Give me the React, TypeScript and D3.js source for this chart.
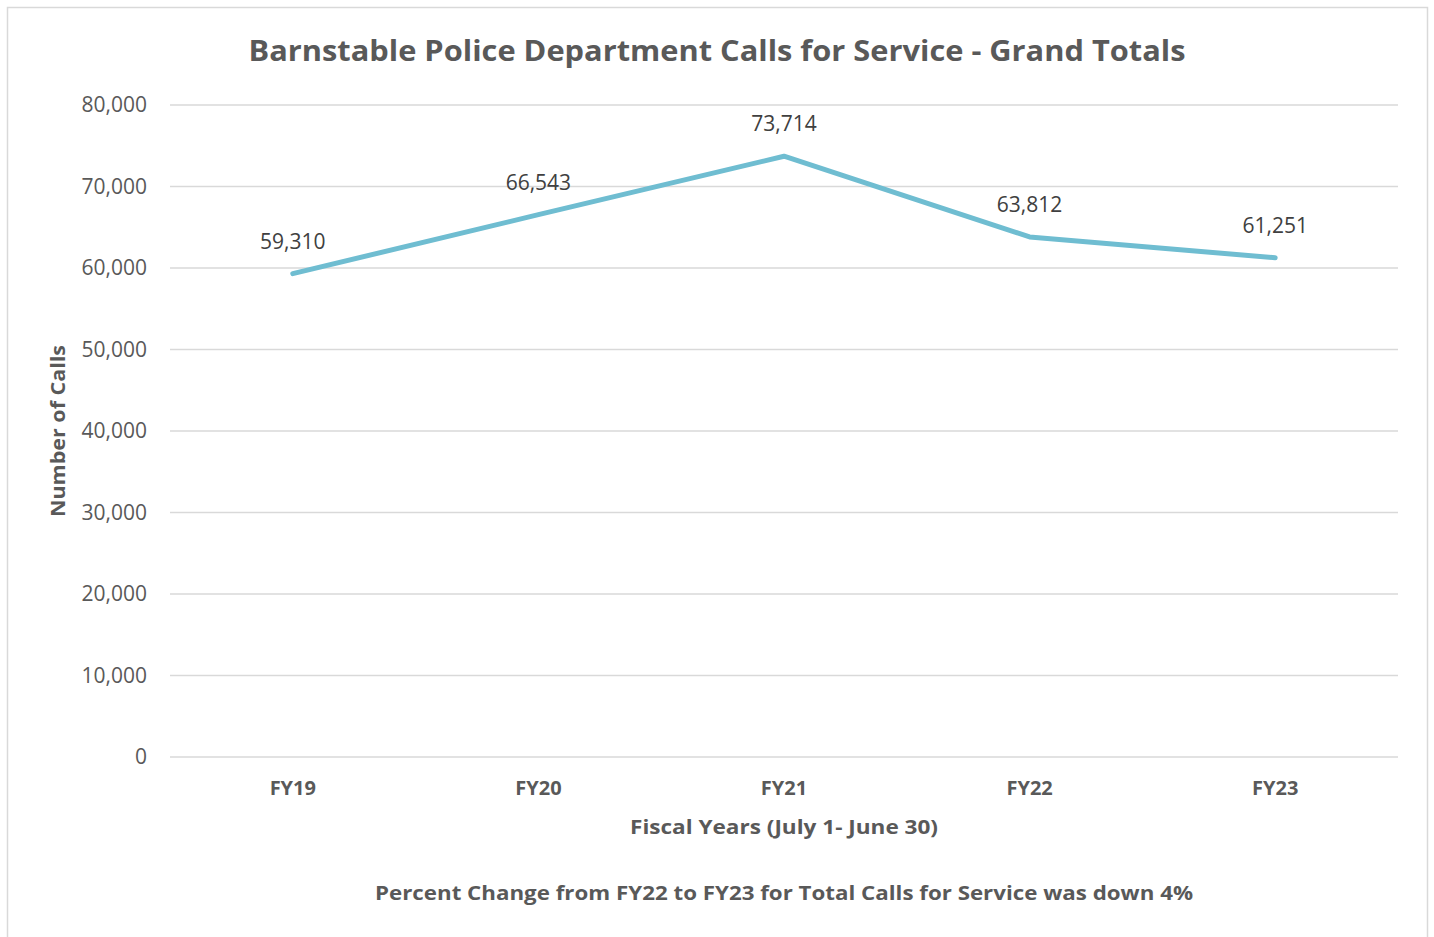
import React from "react";
import * as d3 from "d3";

const categories = ["FY19", "FY20", "FY21", "FY22", "FY23"];
const calls = [59310, 66543, 73714, 63812, 61251];
const yTicks = [0, 10000, 20000, 30000, 40000, 50000, 60000, 70000, 80000];

const title = "Barnstable Police Department Calls for Service - Grand Totals";
const xTitle = "Fiscal Years (July 1- June 30)";
const yTitle = "Number of Calls";
const note = "Percent Change from FY22 to FY23 for Total Calls for Service was down 4%";

export default function App() {
  const W = 1434, H = 937;
  const left = 170, right = 1398, top = 105, bottom = 757;
  const x = d3.scalePoint<string>().domain(categories).range([left, right]).padding(0.5);
  const y = d3.scaleLinear().domain([0, 80000]).range([bottom, top]);
  const fmt = d3.format(",");
  const line = d3.line<number>().x((_, i) => x(categories[i])!).y((d) => y(d));
  const font = "'Open Sans', sans-serif";
  return (
    <svg width={W} height={H} style={{ position: "absolute", left: 0, top: 0 }}>
      <rect x={0} y={0} width={W} height={H} fill="#fff" />
      <rect x={7.5} y={7.5} width={1420} height={H + 10} fill="#fff" stroke="#d9d9d9" strokeWidth={1.5} />
      <text x={717} y={61} textAnchor="middle" fontFamily={font} fontWeight="bold" fontSize={29} fill="#595959" textLength={937} lengthAdjust="spacingAndGlyphs">{title}</text>
      {yTicks.map((t) => (
        <g key={t}>
          <line x1={left} x2={right} y1={y(t)} y2={y(t)} stroke="#d9d9d9" strokeWidth={1.5} />
          <text x={147} y={y(t)} dy="0.35em" textAnchor="end" fontFamily={font} fontSize={21} fill="#595959">{fmt(t)}</text>
        </g>
      ))}
      {categories.map((c) => (
        <text key={c} x={x(c)} y={795} textAnchor="middle" fontFamily={font} fontWeight="bold" fontSize={20} fill="#595959">{c}</text>
      ))}
      <path d={line(calls)!} fill="none" stroke="#6fbdd1" strokeWidth={5} strokeLinejoin="round" strokeLinecap="round" />
      {calls.map((v, i) => (
        <text key={i} x={x(categories[i])} y={y(v) - 25} textAnchor="middle" fontFamily={font} fontSize={21} fill="#404040">{fmt(v)}</text>
      ))}
      <text x={784} y={834} textAnchor="middle" fontFamily={font} fontWeight="bold" fontSize={20} fill="#595959" textLength={308} lengthAdjust="spacingAndGlyphs">{xTitle}</text>
      <text transform="translate(65,431) rotate(-90)" textAnchor="middle" fontFamily={font} fontWeight="bold" fontSize={20} fill="#595959" textLength={172} lengthAdjust="spacingAndGlyphs">{yTitle}</text>
      <text x={784} y={900} textAnchor="middle" fontFamily={font} fontWeight="bold" fontSize={20} fill="#595959" textLength={818} lengthAdjust="spacingAndGlyphs">{note}</text>
    </svg>
  );
}
